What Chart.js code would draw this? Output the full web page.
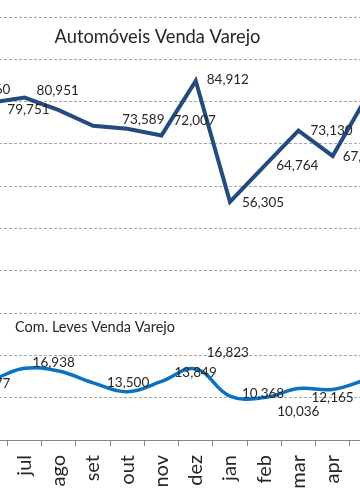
<!DOCTYPE html>
<html>
<head>
<meta charset="utf-8">
<script src="https://cdn.jsdelivr.net/npm/chart.js@4/dist/chart.umd.min.js"></script>
<style>
  html, body { margin:0; padding:0; background:#ffffff; overflow:hidden; width:360px; height:504px; }
  #wrap { position:absolute; left:-61px; top:0; width:445px; height:504px; }
</style>
</head>
<body>
<div id="wrap"><canvas id="c"></canvas></div>
<script>
// ---- data ----
const months = ['mai','jun','jul','ago','set','out','nov','dez','jan','feb','mar','apr','may'];
const autoValues = [82060, 79751, 80951, 78000, 74300, 73589, 72007, 84912, 56305, 64764, 73130, 67150, 81200];
const comValues  = [13677, 14300, 16938, 16300, 13500, 11400, 13849, 16823, 10368, 10036, 12165, 11950, 14300];
const autoTitle = 'Automóveis Venda Varejo';
const comTitle = 'Com. Leves Venda Varejo';
const yTicks = { min: 0, max: 100000, step: 10000 };

// label placement (dx, dy from point), null = no label
const autoLabelPos = [[12,-3],[17,7],[12,-7],null,null,[-5,-9],[12,-15],[11,-1],[12,1],[12,0],[12,0],[10,1],null];
const comLabelPos  = [[12,1],null,[8,-6],null,[14,0],null,[13,-9],[11,-16],[12,-3],[13,14],[13,9],null,null];

const fmt = v => v.toLocaleString('en-US');
const TEXT = '#262626';

const labelPlugin = {
  id: 'labels',
  afterDatasetsDraw(chart) {
    const ctx = chart.ctx;
    const sets = [autoLabelPos, comLabelPos];
    ctx.save();
    ctx.fillStyle = TEXT;
    ctx.font = '13.5px Lato';
    ctx.textAlign = 'left';
    ctx.textBaseline = 'middle';
    chart.data.datasets.forEach((ds, di) => {
      const meta = chart.getDatasetMeta(di);
      meta.data.forEach((pt, i) => {
        const off = sets[di][i];
        if (!off) return;
        ctx.fillText(fmt(ds.data[i]), pt.x + off[0], pt.y + off[1]);
      });
    });
    // in-plot titles
    const xs = chart.scales.x, ys = chart.scales.y;
    ctx.textAlign = 'center';
    ctx.font = '18.3px Lato';
    ctx.fillText(autoTitle, xs.getPixelForValue(6) - 4, ys.getPixelForValue(95300));
    ctx.font = '14.5px Lato';
    ctx.fillText(comTitle, xs.getPixelForValue(4) + 2, ys.getPixelForValue(26700));
    ctx.restore();
  }
};

new Chart(document.getElementById('c'), {
  type: 'line',
  data: {
    labels: months,
    datasets: [
      { label: autoTitle, data: autoValues, borderColor: '#234B7E', borderWidth: 4, pointRadius: 0, tension: 0, fill: false },
      { label: comTitle, data: comValues, borderColor: '#0B72C2', borderWidth: 3.5, pointRadius: 0, tension: 0.4, fill: false }
    ]
  },
  options: {
    responsive: true,
    maintainAspectRatio: false,
    animation: false,
    layout: { padding: { top: 17, left: 0, right: 0, bottom: 0 } },
    plugins: { legend: { display: false }, tooltip: { enabled: false }, title: { display: false } },
    scales: {
      x: {
        type: 'category',
        offset: true,
        grid: { offset: true, drawOnChartArea: false, drawTicks: true, tickLength: 6, tickColor: '#868686', lineWidth: 1 },
        border: { display: true, color: '#868686', width: 1 },
        ticks: { maxRotation: 90, minRotation: 90, autoSkip: false, padding: 9, color: TEXT, font: { family: 'Lato', size: 20 } },
        afterFit(s) { s.height = 64; s.paddingLeft = 0; s.paddingRight = 0; }
      },
      y: {
        min: yTicks.min, max: yTicks.max,
        ticks: { stepSize: yTicks.step, display: false },
        grid: { color: '#A6A6A6', drawTicks: false, lineWidth: 1 },
        border: { display: false, dash: [3, 2] },
        afterFit(s) { s.width = 0; s.paddingTop = 0; s.paddingBottom = 0; }
      }
    }
  },
  plugins: [labelPlugin]
});
</script>
</body>
</html>
